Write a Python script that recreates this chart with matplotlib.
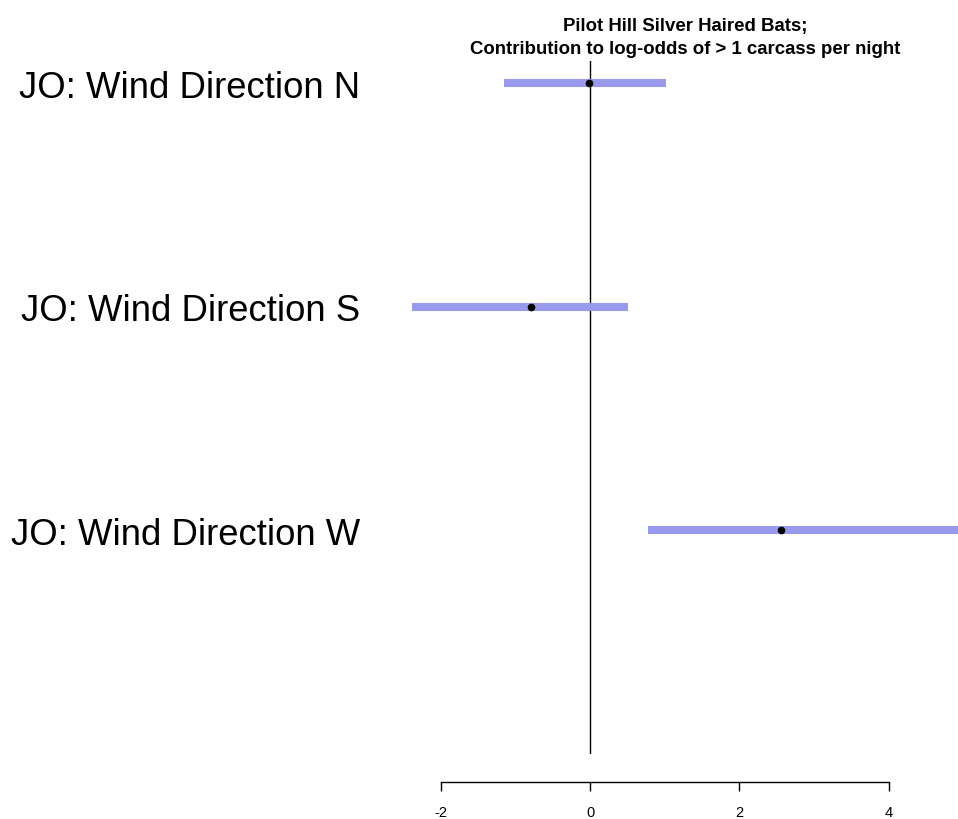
import numpy as np
import matplotlib
matplotlib.use("Agg")
from matplotlib import pyplot as plt

plt.rcParams['font.family'] = ['Liberation Sans', 'DejaVu Sans']

labels = ["JO: Wind Direction N", "JO: Wind Direction S", "JO: Wind Direction W"]
estimate = [-0.02, -0.80, 2.56]
lower = [-1.15, -2.41, 0.77]
upper = [1.02, 0.51, 5.30]
xticks = [-2, 0, 2, 4]

fig = plt.figure(figsize=(9.58, 8.2), dpi=100)
ax = fig.add_axes([412/958, 65/820, 546/958, 693/820])

ypos = np.arange(len(labels))

# interval bars, then point estimates on top
ax.hlines(ypos, lower, upper, color='#9999ee', lw=5.8, zorder=2)
ax.plot(estimate, ypos, 'o', color='black', ms=4.5, zorder=3)
ax.axvline(0, color='black', lw=1.0, zorder=1)

ax.set_xlim(-2.39, 4.93)
ax.set_ylim(3.0, -0.1)

for side in ['top', 'right', 'left']:
    ax.spines[side].set_visible(False)
ax.spines['bottom'].set_position(('outward', 20))
ax.spines['bottom'].set_bounds(-2, 4)
ax.spines['bottom'].set_linewidth(1.0)

ax.set_xticks(xticks)
ax.set_xticklabels([str(t) for t in xticks], fontsize=10.5)
ax.tick_params(axis='x', direction='out', length=6.5, width=1.0, pad=10)

ax.set_yticks(ypos)
ax.set_yticklabels(labels, fontsize=26.3)
ax.tick_params(axis='y', length=0, pad=37)

ax.set_title("Pilot Hill Silver Haired Bats;\nContribution to log-odds of > 1 carcass per night",
             fontsize=13.4, fontweight='bold', pad=6, linespacing=1.45)

fig.savefig("out.png", dpi=100)
